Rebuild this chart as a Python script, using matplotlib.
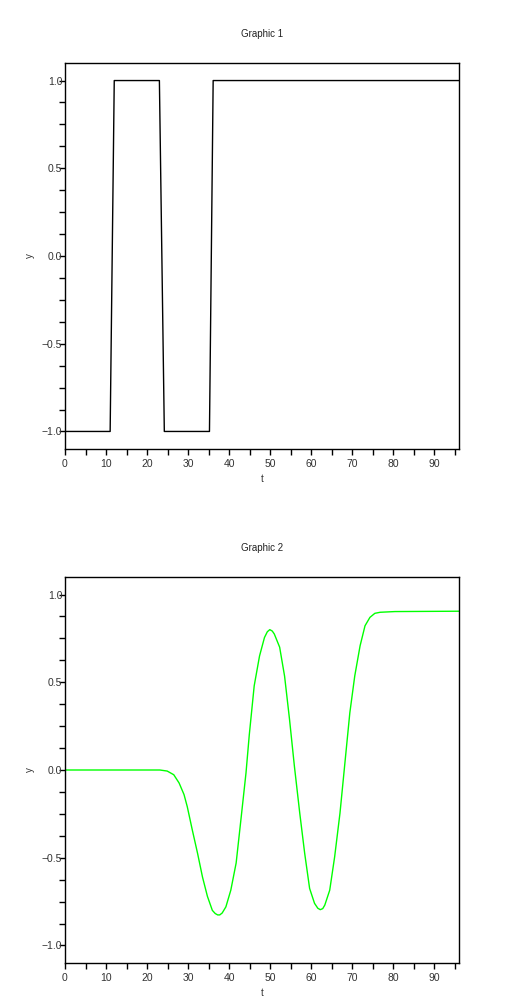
import numpy as np
import matplotlib
matplotlib.use("Agg")
import matplotlib.pyplot as plt
from matplotlib.ticker import MultipleLocator

# Graphic 1 : square-ish signal
t1 = [0, 11, 12, 23, 24.2, 35.2, 36.1, 96]
y1 = [-1, -1, 1, 1, -1, -1, 1, 1]

# Graphic 2 : filtered response
t2 = [0, 23.1, 24.9, 26.5, 27.8, 29.0, 29.8, 31.0, 32.3, 33.5, 34.7, 35.9,
      36.6, 37.2, 37.7, 38.3, 39.2, 40.4, 41.7, 42.9, 44.1, 44.9, 46.1, 47.4,
      48.6, 49.3, 49.9, 50.5, 51.0, 52.3, 53.5, 54.7, 55.9, 57.2, 58.4, 59.6,
      60.8, 61.6, 62.2, 62.8, 63.3, 64.5, 65.7, 67.0, 68.2, 69.4, 70.6, 71.9,
      73.1, 74.3, 75.5, 76.8, 80.4, 96]
y2 = [0, 0, -0.006, -0.027, -0.074, -0.14, -0.21, -0.34, -0.475, -0.61, -0.72,
      -0.80, -0.818, -0.826, -0.826, -0.815, -0.78, -0.685, -0.53, -0.275,
      -0.017, 0.20, 0.48, 0.65, 0.755, 0.788, 0.80, 0.792, 0.775, 0.70, 0.535,
      0.29, 0.02, -0.246, -0.475, -0.675, -0.76, -0.788, -0.796, -0.79, -0.77,
      -0.685, -0.495, -0.246, 0.04, 0.326, 0.536, 0.708, 0.822, 0.87, 0.893,
      0.899, 0.903, 0.905]

yticks = [-1.0, -0.5, 0.0, 0.5, 1.0]
xticks = list(range(0, 100, 10))

plt.rcParams['font.family'] = ['Liberation Sans', 'DejaVu Sans']
fig = plt.figure(figsize=(5.25, 9.97), dpi=100)
W, H = 525, 997

def make_axes(top, title, t, y, color):
    ax = fig.add_axes([65 / W, 1 - (top + 386) / H, 394 / W, 386 / H])
    ax.plot(t, y, color=color, lw=1)
    ax.set_xlim(0, 96)
    ax.set_ylim(-1.1, 1.1)
    ax.set_xticks(xticks)
    ax.set_yticks(yticks)
    ax.set_yticklabels(['\u22121.0', '\u22120.5', '0.0', '0.5', '1.0'])
    ax.xaxis.set_minor_locator(MultipleLocator(5))
    ax.yaxis.set_minor_locator(MultipleLocator(0.125))
    ax.tick_params(which='both', direction='out', length=4, width=1,
                   labelsize=7.5, colors='black', labelcolor='#333333')
    ax.tick_params(axis='y', pad=-2)
    ax.tick_params(axis='x', pad=3)
    ax.set_xlabel('t', fontsize=7, color='#333333', labelpad=4)
    ax.set_ylabel('y', fontsize=7, color='#333333', labelpad=5)
    for s in ax.spines.values():
        s.set_linewidth(1)
    ax.set_title(title, fontsize=7, color='#222222', pad=19)
    return ax

make_axes(63, 'Graphic 1', t1, y1, 'black')
make_axes(577, 'Graphic 2', t2, y2, '#00ff00')

fig.savefig('out.png', dpi=100)
